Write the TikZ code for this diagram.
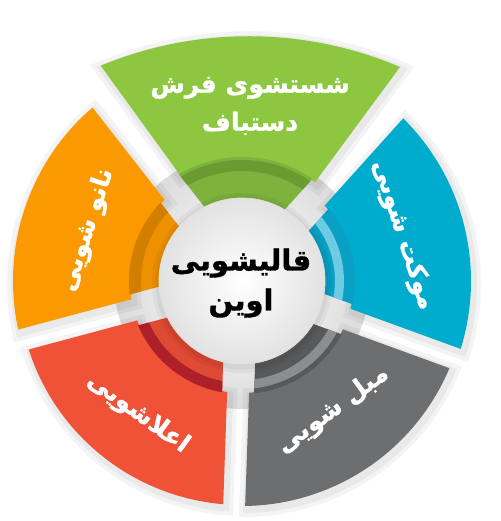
\documentclass[tikz,border=0pt]{standalone}
\usepackage{fontspec}
\usepackage{tikz}
\usetikzlibrary{positioning}
\TeXXeTstate=1
\newfontfamily\arabicfont[Script=Arabic, BoldFeatures={FakeBold=1.2}]{DejaVu Sans}
\definecolor{segGreen}{HTML}{8DC63F}
\definecolor{segGreenBand}{HTML}{7DB23C}
\definecolor{segGreenDark}{HTML}{6A9A30}
\definecolor{segBlue}{HTML}{00ACCD}
\definecolor{segBlueBand}{HTML}{0A9FC4}
\definecolor{segBlueLight}{HTML}{6DCBE2}
\definecolor{segGray}{HTML}{6D6E70}
\definecolor{segGrayBand}{HTML}{58595B}
\definecolor{segGrayLight}{HTML}{8B8D90}
\definecolor{segRed}{HTML}{EF5237}
\definecolor{segRedBand}{HTML}{DE4A33}
\definecolor{segRedDark}{HTML}{AD2029}
\definecolor{segOrange}{HTML}{FA9A00}
\definecolor{segOrangeBand}{HTML}{EE9100}
\definecolor{segOrangeDark}{HTML}{D27F00}
\definecolor{hubGray}{HTML}{DCDCDC}
\definecolor{discGray}{HTML}{E2E2E2}
\newcommand{\SEGPATH}[5]{({#1+asin(#5/#3)}:#3) arc[start angle={#1+asin(#5/#3)}, end angle={#2-asin(#5/#3)}, radius=#3]
 -- ({#2-asin(#5/#4)}:#4) arc[start angle={#2-asin(#5/#4)}, end angle={#1+asin(#5/#4)}, radius=#4] -- cycle}
\tikzset{font=\arabicfont\bfseries}
\tikzset{seglabel/.style={text=white, inner sep=0pt, font=\arabicfont\bfseries\fontsize{25}{30}\selectfont}}
\tikzset{hublabel/.style={text=black, inner sep=0pt, align=center, font=\arabicfont\bfseries\fontsize{29}{40}\selectfont}}
\tikzset{softshade/.style={draw=black, fill=none, opacity=0.045}}

\begin{document}
\begin{tikzpicture}[x=1pt,y=1pt]
\useasboundingbox (0,0) rectangle (500,521);
\fill[white] (0,0) rectangle (500,521);
\pgfmathsetmacro{\GAP}{11}
\pgfmathsetmacro{\GAPB}{16}
\begin{scope}[shift={(242,240)}]
\shade[inner color=white, outer color=hubGray] (0,0) circle (128);
\begin{scope}[shift={(2,-3)}]
\draw[softshade, line width=16] \SEGPATH{195}{268}{224}{112}{\GAP};
\draw[softshade, line width=8] \SEGPATH{195}{268}{224}{112}{\GAP};
\draw[softshade, line width=16] \SEGPATH{268}{340}{225}{112}{\GAP};
\draw[softshade, line width=8] \SEGPATH{268}{340}{225}{112}{\GAP};
\draw[softshade, line width=16] \SEGPATH{340}{408}{229}{112}{\GAP};
\draw[softshade, line width=8] \SEGPATH{340}{408}{229}{112}{\GAP};
\draw[softshade, line width=16] \SEGPATH{128}{195}{229}{112}{\GAP};
\draw[softshade, line width=8] \SEGPATH{128}{195}{229}{112}{\GAP};
\end{scope}
\fill[segRed] \SEGPATH{195}{268}{224}{112}{\GAP};
\fill[segGray] \SEGPATH{268}{340}{225}{112}{\GAP};
\fill[segBlue] \SEGPATH{340}{408}{229}{112}{\GAP};
\fill[segOrange] \SEGPATH{128}{195}{229}{112}{\GAP};
\fill[segRedBand] \SEGPATH{195}{268}{113}{80}{\GAPB};
\fill[segRedDark] \SEGPATH{195}{268}{113}{102}{\GAPB};
\fill[segGrayBand] \SEGPATH{268}{340}{113}{80}{\GAPB};
\fill[segGrayLight] \SEGPATH{268}{340}{108}{99}{\GAPB};
\fill[segBlueBand] \SEGPATH{340}{408}{113}{80}{\GAPB};
\fill[segBlueLight] \SEGPATH{340}{408}{102}{93}{\GAPB};
\fill[segOrangeBand] \SEGPATH{128}{195}{113}{80}{\GAPB};
\fill[segOrangeDark] \SEGPATH{128}{195}{113}{101}{\GAPB};
\end{scope}
\draw[softshade, line width=16, shift={(2,-3)}] (400,454) arc[start angle=67, end angle=112.5, radius=387] -- (180,346) arc[start angle=120.3, end angle=53.6, radius=123] -- cycle;
\draw[softshade, line width=8, shift={(2,-3)}] (400,454) arc[start angle=67, end angle=112.5, radius=387] -- (180,346) arc[start angle=120.3, end angle=53.6, radius=123] -- cycle;
\fill[segGreen] (400,454) arc[start angle=67, end angle=112.5, radius=387] -- (180,346) arc[start angle=120.3, end angle=53.6, radius=123] -- cycle;
\begin{scope}[shift={(242,240)}]
\fill[segGreenBand] \SEGPATH{48}{128}{124}{80}{\GAPB};
\fill[segGreenDark] \SEGPATH{48}{128}{121}{110}{\GAPB};
\draw[softshade, line width=14] (0,-2) circle (83);
\draw[softshade, line width=7] (0,-2) circle (83);
\shade[inner color=white, outer color=discGray] (0,0) circle (83);
\draw[black!12, line width=0.8] (0,0) circle (83);
\end{scope}
\node[seglabel, align=center] (carpet) at (250,415) {\beginR شستشوی فرش\endR\\[8pt]\beginR دستباف\endR};
\node[seglabel, rotate=-72] (moquette) at (403,286) {\beginR موکت شویی\endR};
\node[seglabel, rotate=36] (sofa) at (333,111) {\beginR مبل شویی\endR};
\node[seglabel, rotate=-36] (upholstery) at (138,108) {\beginR اعلاشویی\endR};
\node[seglabel, rotate=72] (nano) at (87,291) {\beginR نانو شویی\endR};
\node[hublabel] (hub) at (241,238) {\beginR قالیشویی\endR\\\beginR اوین\endR};
\end{tikzpicture}
\end{document}
